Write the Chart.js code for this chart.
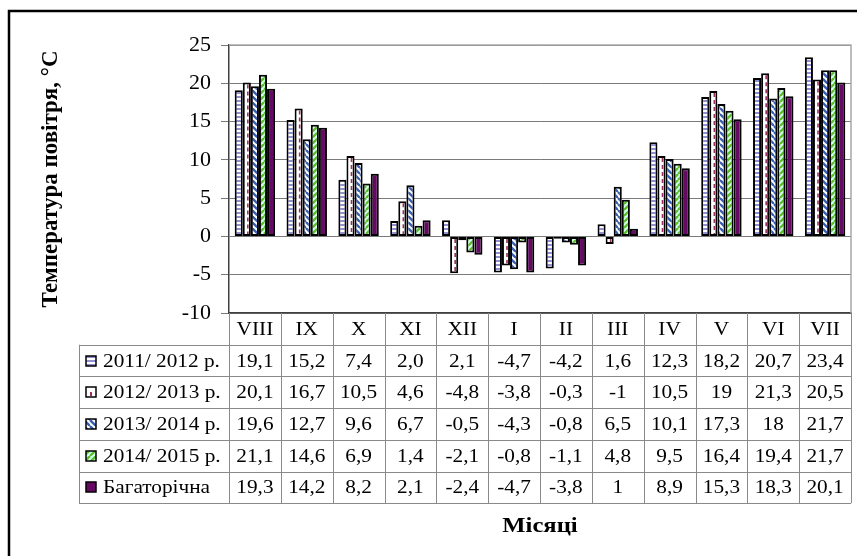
<!DOCTYPE html>
<html>
<head>
<meta charset="utf-8">
<script src="https://cdn.jsdelivr.net/npm/chart.js@4"></script>
<style>
  html, body { margin: 0; padding: 0; background: #fff; }
</style>
</head>
<body>
<canvas id="chart" width="857" height="556"></canvas>
<script>
// --- data (table text, parsed for the bars) ---
const months = ['VIII', 'IX', 'X', 'XI', 'XII', 'I', 'II', 'III', 'IV', 'V', 'VI', 'VII'];
const seriesNames = ['2011/ 2012 р.', '2012/ 2013 р.', '2013/ 2014 р.', '2014/ 2015 р.', 'Багаторічна'];
const t2011 = ['19,1', '15,2', '7,4', '2,0', '2,1', '-4,7', '-4,2', '1,6', '12,3', '18,2', '20,7', '23,4'];
const t2012 = ['20,1', '16,7', '10,5', '4,6', '-4,8', '-3,8', '-0,3', '-1', '10,5', '19', '21,3', '20,5'];
const t2013 = ['19,6', '12,7', '9,6', '6,7', '-0,5', '-4,3', '-0,8', '6,5', '10,1', '17,3', '18', '21,7'];
const t2014 = ['21,1', '14,6', '6,9', '1,4', '-2,1', '-0,8', '-1,1', '4,8', '9,5', '16,4', '19,4', '21,7'];
const tMulti = ['19,3', '14,2', '8,2', '2,1', '-2,4', '-4,7', '-3,8', '1', '8,9', '15,3', '18,3', '20,1'];
const yMin = -10, yMax = 25, yStep = 5;

const tableRows = [t2011, t2012, t2013, t2014, tMulti];
const toNum = s => parseFloat(s.replace(',', '.'));

const SERIF = '"Liberation Serif", "Times New Roman", serif';
const STRETCH = 1.12; // the original text is a bit wider than plain Times

// --- fill patterns ---
function makeTile(size, draw) {
  const c = document.createElement('canvas');
  c.width = size; c.height = size;
  const g = c.getContext('2d');
  draw(g, size);
  return document.createElement('canvas').getContext('2d').createPattern(c, 'repeat');
}

const hStripes = makeTile(4, (g, s) => {
  g.fillStyle = '#fff'; g.fillRect(0, 0, s, s);
  g.fillStyle = '#8f8fd2'; g.fillRect(0, 0, s, 2);
});

const diag = (bg, fg, down) => makeTile(6, (g, s) => {
  g.fillStyle = bg; g.fillRect(0, 0, s, s);
  g.strokeStyle = fg; g.lineWidth = 2.4;
  for (let o = -s; o <= s; o += s) {
    g.beginPath();
    if (down) { g.moveTo(o, 0); g.lineTo(o + s, s); }
    else { g.moveTo(o, s); g.lineTo(o + s, 0); }
    g.stroke();
  }
});

const blueDiag = diag('#ffffff', '#3a5fb0', true);
const greenDiag = diag('#d8fff4', '#5cbf2a', false);
const fills = [hStripes, '#ffffff', blueDiag, greenDiag, '#650a63'];
const DASH_COLOR = '#9b3060';

function wideText(ctx, text, x, y, align) {
  ctx.save();
  ctx.translate(x, y);
  ctx.scale(STRETCH, 1);
  ctx.textAlign = align;
  ctx.fillText(text, 0, 0);
  ctx.restore();
}

// dashed centre line of the 2012/2013 bars
const dashPlugin = {
  id: 'dashLine',
  afterDatasetsDraw(chart) {
    const ctx = chart.ctx;
    const meta = chart.getDatasetMeta(1);
    ctx.save();
    ctx.strokeStyle = DASH_COLOR;
    ctx.lineWidth = 1.6;
    ctx.setLineDash([4, 3]);
    meta.data.forEach(bar => {
      const y0 = Math.min(bar.y, bar.base) + 2;
      const y1 = Math.max(bar.y, bar.base) - 2;
      if (y1 - y0 < 2) return;
      ctx.beginPath();
      ctx.moveTo(bar.x + 1, y0);
      ctx.lineTo(bar.x + 1, y1);
      ctx.stroke();
    });
    ctx.restore();
  }
};

// frame, plot border and the data table underneath
const tablePlugin = {
  id: 'dataTable',
  beforeDatasetsDraw(chart) {
    const { ctx, chartArea: a } = chart;
    ctx.save();
    ctx.strokeStyle = '#a8a8a8';
    ctx.lineWidth = 1.5;
    ctx.beginPath();
    ctx.moveTo(a.left, a.top);
    ctx.lineTo(a.right, a.top);
    ctx.lineTo(a.right, a.bottom);
    ctx.stroke();
    ctx.restore();
  },
  afterDraw(chart) {
    const { ctx, chartArea: a } = chart;
    const xs = chart.scales.x;
    const colW = a.width / months.length;
    const rowH = 31.7;
    const top = a.bottom;
    const legendLeft = 79;
    const bottom = top + rowH * 6;

    ctx.save();
    // outer frame
    ctx.strokeStyle = '#000';
    ctx.lineWidth = 2.5;
    ctx.beginPath();
    ctx.moveTo(857, 11);
    ctx.lineTo(9, 11);
    ctx.lineTo(9, 556);
    ctx.stroke();

    // grid of the table
    ctx.strokeStyle = '#8a8a8a';
    ctx.lineWidth = 1;
    ctx.beginPath();
    for (let r = 1; r <= 6; r++) {
      const y = Math.round(top + r * rowH) + 0.5;
      ctx.moveTo(legendLeft, y);
      ctx.lineTo(a.right, y);
    }
    for (let c = 0; c <= months.length; c++) {
      const x = Math.round(a.left + c * colW) + 0.5;
      ctx.moveTo(x, top);
      ctx.lineTo(x, bottom);
    }
    ctx.moveTo(legendLeft + 0.5, top + rowH);
    ctx.lineTo(legendLeft + 0.5, bottom);
    ctx.stroke();

    // header: month names
    ctx.fillStyle = '#000';
    ctx.font = '19px ' + SERIF;
    ctx.textBaseline = 'middle';
    months.forEach((m, i) => {
      wideText(ctx, m, xs.getPixelForValue(i), top + rowH / 2 + 1, 'center');
    });

    // rows
    tableRows.forEach((row, r) => {
      const yc = top + rowH * (r + 1.5) + 1;
      row.forEach((v, i) => {
        wideText(ctx, v, xs.getPixelForValue(i), yc, 'center');
      });
      // legend swatch
      const sx = 86, sy = Math.round(yc - 6), sw = 10;
      ctx.fillStyle = fills[r];
      ctx.fillRect(sx, sy, sw, sw);
      if (r === 1) {
        ctx.fillStyle = DASH_COLOR;
        ctx.fillRect(sx + 4, sy + 5, 2, 4);
      }
      ctx.strokeStyle = '#000';
      ctx.lineWidth = 1.5;
      ctx.strokeRect(sx, sy, sw, sw);
      ctx.fillStyle = '#000';
      wideText(ctx, seriesNames[r], 103, yc, 'left');
    });

    // x axis title
    ctx.font = 'bold 22px ' + SERIF;
    wideText(ctx, 'Місяці', (a.left + a.right) / 2, 526, 'center');
    ctx.restore();
  }
};

new Chart(document.getElementById('chart'), {
  type: 'bar',
  data: {
    labels: months,
    datasets: tableRows.map((row, k) => ({
      label: seriesNames[k],
      data: row.map(toNum),
      backgroundColor: fills[k],
      borderColor: '#000',
      borderWidth: 2,
      borderSkipped: false,
      categoryPercentage: 0.78,
      barPercentage: 1
    }))
  },
  options: {
    responsive: false,
    animation: false,
    layout: { padding: { top: 45, right: 6, left: 0, bottom: 0 } },
    plugins: { legend: { display: false }, tooltip: { enabled: false } },
    scales: {
      x: {
        ticks: { display: false },
        grid: { display: false },
        border: { display: true, color: '#404040', width: 1.5 },
        afterFit: s => { s.height = 243; }
      },
      y: {
        min: yMin,
        max: yMax,
        ticks: { stepSize: yStep, color: '#000', padding: 10, font: { family: SERIF, size: 22 } },
        grid: { color: '#7a7a7a', lineWidth: 1, tickLength: 8 },
        border: { display: true, color: '#404040', width: 1.5 },
        title: {
          display: true,
          text: 'Температура повітря, °С',
          color: '#000',
          font: { family: SERIF, size: 23, weight: 'bold' },
          padding: { top: 37, bottom: 0 }
        },
        afterFit: s => { s.width = 229; }
      }
    }
  },
  plugins: [dashPlugin, tablePlugin]
});
</script>
</body>
</html>
